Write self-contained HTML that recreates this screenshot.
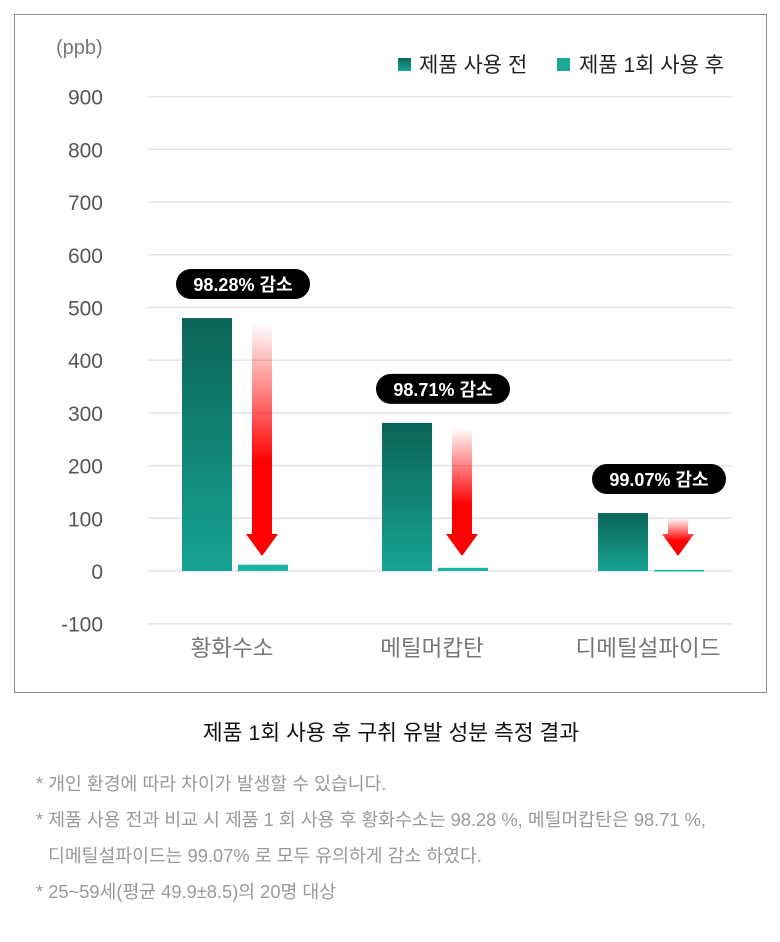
<!DOCTYPE html>
<html><head><meta charset="utf-8"><style>
body{margin:0;background:#fff;width:780px;height:942px;overflow:hidden;font-family:"Liberation Sans","Noto Sans CJK KR",sans-serif}
#frame{position:absolute;left:14px;top:14px;width:751px;height:677px;border:1px solid #8a8a8a}
.title{position:absolute;top:716px;left:0;width:782px;text-align:center;font-size:21.5px;color:#111}
.note{position:absolute;left:36px;font-size:18.3px;color:#999;white-space:nowrap}
</style></head><body>
<div id="frame"></div>
<svg id="chart" width="780" height="700" style="position:absolute;left:0;top:0"></svg>
<div class="title">제품 1회 사용 후 구취 유발 성분 측정 결과</div>
<div class="note" style="top:770px">* 개인 환경에 따라 차이가 발생할 수 있습니다.</div>
<div class="note" style="top:806px">* 제품 사용 전과 비교 시 제품 1 회 사용 후 황화수소는 98.28 %, 메틸머캅탄은 98.71 %,</div>
<div class="note" style="top:842px;left:48px">디메틸설파이드는 99.07% 로 모두 유의하게 감소 하였다.</div>
<div class="note" style="top:878px">* 25~59세(평균 49.9±8.5)의 20명 대상</div>
<script>
const categories=["황화수소","메틸머캅탄","디메틸설파이드"];
const before=[480,281,110];
const after=[12,6,2];
const labels=["98.28% 감소","98.71% 감소","99.07% 감소"];
const ticks=[900,800,700,600,500,400,300,200,100,0,-100];
const NS="http://www.w3.org/2000/svg";
const svg=document.getElementById('chart');
const y=v=>571-v*0.527;
const groupX=[182,382,598];
function el(t,a,p){const e=document.createElementNS(NS,t);for(const k in a)e.setAttribute(k,a[k]);(p||svg).appendChild(e);return e;}
const defs=el('defs',{});
const g1=el('linearGradient',{id:'gb',x1:0,y1:0,x2:0,y2:1},defs);
el('stop',{offset:0,'stop-color':'#0b6458'},g1);el('stop',{offset:1,'stop-color':'#16a393'},g1);
const g2=el('linearGradient',{id:'ga',x1:0,y1:0,x2:0,y2:1},defs);
el('stop',{offset:0,'stop-color':'#ff0000','stop-opacity':0},g2);el('stop',{offset:0.6,'stop-color':'#ff0000','stop-opacity':1},g2);el('stop',{offset:1,'stop-color':'#ff0000'},g2);
const lg1=el('linearGradient',{id:'lg',x1:0,y1:0,x2:0,y2:1},defs);
el('stop',{offset:0,'stop-color':'#0b6458'},lg1);el('stop',{offset:1,'stop-color':'#16a393'},lg1);
ticks.forEach(t=>{
  const l=el('line',{x1:148,x2:732,y1:y(t),y2:y(t),stroke:'#e4e4e4','stroke-width':1.5});
  
  const tx=el('text',{x:103,y:y(t)+8,'text-anchor':'end','font-size':21,fill:'#555'});tx.textContent=t;
  
});
const u=el('text',{x:56,y:54,'font-size':20,fill:'#777'});u.textContent='(ppb)';

const l1=el('rect',{x:398,y:58,width:13,height:13,fill:'url(#lg)'});

const lt1=el('text',{x:419,y:72,'font-size':21,fill:'#222'});lt1.textContent='제품 사용 전';

const l2=el('rect',{x:557,y:58,width:13,height:13,fill:'#1aa898'});

const lt2=el('text',{x:579,y:72,'font-size':21,fill:'#222'});lt2.textContent='제품 1회 사용 후';

categories.forEach((c,i)=>{
  const x0=groupX[i];
  const b=el('rect',{x:x0,y:y(before[i]),width:50,height:y(0)-y(before[i]),fill:'url(#gb)'});
  
  const a=el('rect',{x:x0+56,y:y(after[i]),width:50,height:Math.max(1.5,y(0)-y(after[i])),fill:'#1fb5a5'});
  
  const ct=el('text',{x:x0+50,y:656,'text-anchor':'middle','font-size':22.5,fill:'#777'});ct.textContent=c;
  
  const top=y(before[i])+5, bot=y(0)-15, ax=x0+80;
  const ar=el('path',{d:`M${ax-10},${top} H${ax+10} V${bot-22} H${ax+16} L${ax},${bot} L${ax-16},${bot-22} H${ax-10} Z`,fill:'url(#ga)'});
  
  const py=y(before[i])-34, pw=134;
  const pr=el('rect',{x:x0+61-pw/2,y:py-15,width:pw,height:30,rx:15,fill:'#000'});
  
  const pt=el('text',{x:x0+61,y:py+7,'text-anchor':'middle','font-size':18,'font-weight':'bold',fill:'#fff'});pt.textContent=labels[i];
  
});
</script>
</body></html>
